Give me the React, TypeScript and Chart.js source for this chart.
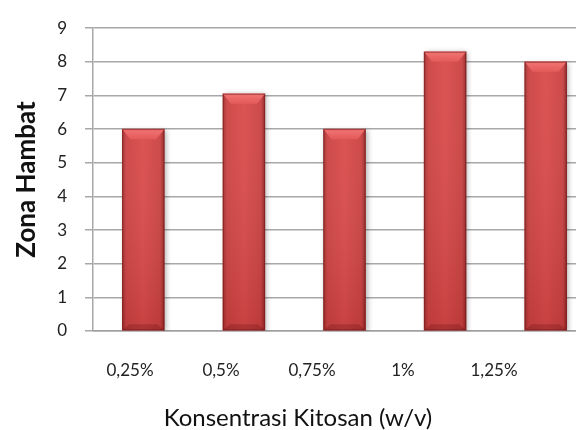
import React, { useEffect, useRef } from 'react';
import { Chart, registerables } from 'chart.js';

Chart.register(...registerables);

const categories = ['0,25%', '0,5%', '0,75%', '1%', '1,25%'];
const zonaHambat = [6, 7.05, 6, 8.3, 8];
const yMin = 0;
const yMax = 9;
const yStep = 1;
const yTitle = 'Zona Hambat';
const xTitle = 'Konsentrasi Kitosan (w/v)';

const BAR_W = 42;
const FONT = 'Lato, "Noto Sans", sans-serif';

const bevelPlugin = {
  id: 'bevel',
  beforeDatasetDraw(chart: any) {
    const c = chart.ctx;
    c.save();
    c.shadowColor = 'rgba(0,0,0,0.28)';
    c.shadowBlur = 5;
    c.shadowOffsetX = 2;
    c.shadowOffsetY = 1;
  },
  afterDatasetDraw(chart: any, args: any) {
    const c = chart.ctx;
    c.restore();
    args.meta.data.forEach((bar: any) => {
      const { x, y, base, width } = bar.getProps(['x', 'y', 'base', 'width'], true);
      const l = x - width / 2;
      const r = x + width / 2;
      const h = base - y;
      const bh = Math.min(10, h / 3);
      c.save();
      const vg = c.createLinearGradient(0, y, 0, base);
      vg.addColorStop(0, 'rgba(255,255,255,0.04)');
      vg.addColorStop(1, 'rgba(90,0,0,0.14)');
      c.fillStyle = vg;
      c.fillRect(l, y, width, h);
      // top bevel
      c.beginPath();
      c.moveTo(l, y);
      c.lineTo(r, y);
      c.lineTo(r - 8, y + bh);
      c.lineTo(l + 8, y + bh);
      c.closePath();
      const tg = c.createLinearGradient(0, y, 0, y + bh);
      tg.addColorStop(0, '#f27474');
      tg.addColorStop(1, '#e35a5a');
      c.fillStyle = tg;
      c.fill();
      // bottom bevel
      c.beginPath();
      c.moveTo(l, base);
      c.lineTo(r, base);
      c.lineTo(r - 7, base - 6);
      c.lineTo(l + 7, base - 6);
      c.closePath();
      c.fillStyle = 'rgba(110,20,20,0.3)';
      c.fill();
      c.strokeStyle = 'rgba(110,25,25,0.55)';
      c.lineWidth = 1;
      c.strokeRect(l + 0.5, y + 0.5, width - 1, h - 1);
      c.restore();
    });
  },
};

export default function App() {
  const ref = useRef<HTMLCanvasElement>(null);

  useEffect(() => {
    if (!ref.current) return;
    const chart = new Chart(ref.current, {
      type: 'bar',
      data: {
        labels: categories,
        datasets: [
          {
            data: zonaHambat,
            barThickness: BAR_W,
            borderWidth: 0,
            backgroundColor: (ctx: any) => {
              const ch = ctx.chart;
              const xs = ch.scales && ch.scales.x;
              if (!xs || !ch.chartArea || ctx.dataIndex == null) return '#d24646';
              const cx = xs.getPixelForValue(ctx.dataIndex);
              const g = ch.ctx.createLinearGradient(cx - BAR_W / 2, 0, cx + BAR_W / 2, 0);
              g.addColorStop(0, '#a53232');
              g.addColorStop(0.1, '#cc4444');
              g.addColorStop(0.5, '#da4c4c');
              g.addColorStop(0.9, '#ca4343');
              g.addColorStop(1, '#982a2a');
              return g;
            },
          },
        ],
      },
      options: {
        responsive: false,
        animation: false,
        layout: { padding: { top: 19, right: 4, left: 0, bottom: 0 } },
        plugins: {
          legend: { display: false },
          tooltip: { enabled: false },
          title: {
            display: true,
            position: 'bottom',
            text: xTitle,
            color: '#111',
            font: { family: FONT, size: 24, weight: 'normal', lineHeight: 1.0 },
            padding: { top: 10, bottom: 0 },
          },
        },
        scales: {
          x: {
            type: 'category',
            position: 'bottom',
            weight: 0,
            grid: { display: false, drawTicks: false },
            border: { display: true, color: '#a0a0a0', width: 1.5 },
            ticks: { display: false },
            afterFit: (s: any) => {
              s.height = 0;
              s.paddingLeft = 0;
              s.paddingRight = 0;
            },
          },
          x2: {
            type: 'linear',
            position: 'bottom',
            weight: 1,
            offset: false,
            min: -0.4066,
            max: 5.121,
            grid: { display: false, drawTicks: false, offset: false },
            border: { display: false },
            afterBuildTicks: (s: any) => {
              s.ticks = categories.map((_, i) => ({ value: i }));
            },
            ticks: {
              color: '#222',
              font: { family: FONT, size: 17 },
              padding: 29,
              autoSkip: false,
              maxRotation: 0,
              callback: (v: any) => categories[v as number],
            },
            afterFit: (s: any) => {
              s.height = 65;
              s.paddingLeft = 0;
              s.paddingRight = 0;
            },
          },
          y: {
            min: yMin,
            max: yMax,
            grid: { color: '#a8a8a8', lineWidth: 1.5, tickLength: 8 },
            border: { display: true, color: '#a8a8a8', width: 1.5 },
            ticks: {
              stepSize: yStep,
              color: '#222',
              font: { family: FONT, size: 17 },
              padding: 18,
            },
            title: {
              display: true,
              text: yTitle,
              color: '#111',
              font: { family: FONT, size: 26, weight: 'bold' },
              padding: { top: 11, bottom: 0 },
            },
            afterFit: (s: any) => {
              s.width = 93;
            },
          },
        },
      },
      plugins: [bevelPlugin],
    } as any);
    return () => chart.destroy();
  }, []);

  return (
    <div
      style={{
        position: 'fixed',
        left: 0,
        top: 0,
        width: 576,
        height: 430,
        overflow: 'hidden',
        background: '#fff',
      }}
    >
      <canvas ref={ref} width={600} height={430} style={{ display: 'block' }} />
    </div>
  );
}
